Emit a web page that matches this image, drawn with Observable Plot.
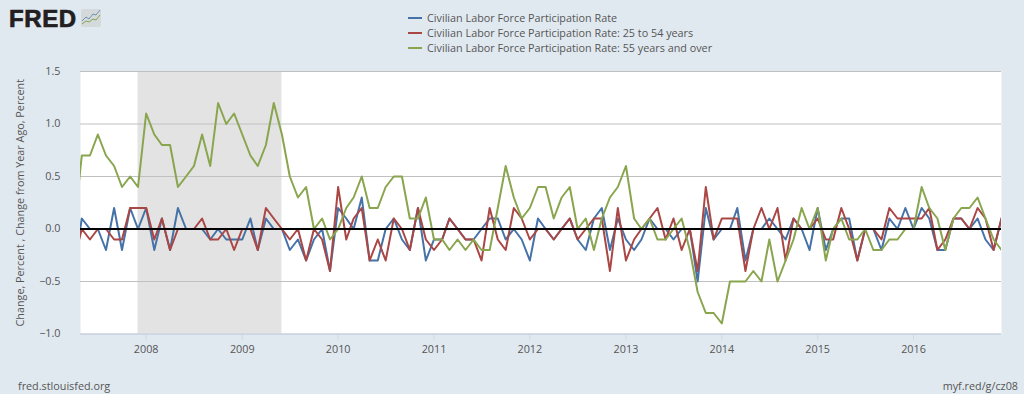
<!DOCTYPE html>
<html>
<head>
<meta charset="utf-8">
<script src="https://cdn.jsdelivr.net/npm/d3@7"></script>
<script src="https://cdn.jsdelivr.net/npm/@observablehq/plot@0.6"></script>
<style>
html,body{margin:0;padding:0;background:#e1e9f0;width:1024px;height:394px;overflow:hidden;font-family:"Open Sans",sans-serif;color:#555}
#chart{position:absolute;left:0;top:0}
.t{position:absolute;white-space:nowrap;font-size:10.8px;line-height:14px}
.sw{position:absolute;left:408px;width:14px;height:2px}
#logo{position:absolute;left:9px;top:6px;font:bold 24px/26px "Liberation Sans",sans-serif;color:#231f20;-webkit-text-stroke:.7px #231f20;letter-spacing:.6px}
#icon{position:absolute;left:81px;top:9px}
</style>
</head>
<body>
<div id="chart"></div>
<div id="logo">FRED</div>
<svg id="icon" width="20" height="18"><rect width="20" height="18" rx="2" fill="#d4d9dc"/><polyline points="1,12 5,8 8,10 12,5 15,6 19,1" fill="none" stroke="#6f93b0" stroke-width="1"/><polyline points="1,15 5,12 8,13 12,10 15,11 19,6" fill="none" stroke="#84a552" stroke-width="1"/></svg>
<div id="legend"></div>
<div class="t" style="left:18px;top:379px">fred.stlouisfed.org</div>
<div class="t" style="right:6px;top:379px">myf.red/g/cz08</div>
<script>
const startMonth = "2007-04-01";
const endMonth = "2016-12-01";
const seriesNames = [
  "Civilian Labor Force Participation Rate",
  "Civilian Labor Force Participation Rate: 25 to 54 years",
  "Civilian Labor Force Participation Rate: 55 years and over"
];
const seriesColors = ["#4572a7", "#aa4643", "#89a54e"];
const allAges = [
  -.4,.1,0,0,-.2,.2,-.2,.2,0,
  .2,-.2,.1,-.2,.2,0,0,0,-.1,0,-.1,-.1,
  -.1,.1,-.2,.1,0,0,-.2,-.1,-.3,-.1,0,-.4,
  .2,.1,0,.3,-.3,-.3,0,.1,-.1,-.2,.2,-.3,
  -.1,-.1,.1,0,-.1,-.1,0,.1,.1,-.1,0,-.1,
  -.3,.1,0,-.1,0,.1,-.1,-.2,.1,.2,-.2,.1,
  -.1,-.2,-.1,.1,0,0,-.1,0,0,-.5,.2,-.1,
  0,0,.2,-.3,0,0,.1,0,-.1,.1,0,-.2,
  .2,-.2,0,.1,.1,-.3,0,0,-.2,.1,0,.2,
  0,.2,.1,-.2,-.2,.1,.1,0,.1,-.1,-.2,.1
];
const age25to54 = [
  -.3,0,-.1,0,0,-.1,-.1,.2,.2,
  .2,-.1,.1,-.2,0,0,0,.1,-.1,-.1,0,-.2,
  0,0,-.2,.2,.1,0,-.1,0,-.3,0,-.1,-.4,
  .4,-.1,.1,.2,-.3,-.1,-.3,.1,0,-.2,.2,-.1,
  -.2,-.1,.1,0,-.1,-.1,-.3,.2,-.1,-.2,.2,.1,
  -.1,0,0,-.1,0,.1,-.1,0,.1,.1,-.4,.2,
  -.3,-.1,0,.1,.2,-.1,.1,-.2,0,-.4,.4,-.1,
  .1,.1,.1,-.4,0,.2,0,.2,-.3,.1,0,0,
  .1,-.1,-.1,.2,0,-.3,0,0,-.1,.2,.1,.1,
  .1,.1,.2,-.2,-.1,.1,.1,0,.2,.1,-.2,.1
];
const age55plus = [
  0,.7,.7,.9,.7,.6,.4,.5,.4,
  1.1,.9,.8,.8,.4,.5,.6,.9,.6,1.2,1,1.1,
  .9,.7,.6,.8,1.2,.9,.5,.3,.4,0,.1,-.1,
  0,.2,.3,.5,.2,.2,.4,.5,.5,.1,.1,.3,
  -.1,-.1,-.2,-.1,-.2,-.1,-.2,-.2,.2,.6,.3,.1,
  .2,.4,.4,.1,.3,.4,0,.1,-.2,.1,.3,.4,
  .6,.1,0,.1,-.1,-.1,0,.1,-.2,-.6,-.8,-.8,
  -.9,-.5,-.5,-.5,-.4,-.5,-.1,-.5,-.3,-.1,.2,0,
  .2,-.3,0,.1,-.1,-.1,0,-.2,-.2,-.1,-.1,0,
  0,.4,.2,.1,-.2,.1,.2,.2,.3,.1,-.1,-.2
];
const yTicks = [-1, -0.5, 0, 0.5, 1, 1.5];
const yearTicks = [2008,2009,2010,2011,2012,2013,2014,2015,2016];
const recessionStart = "2007-12-01";
const recessionEnd = "2009-06-01";

const months = d3.utcMonth.range(new Date(startMonth), d3.utcMonth.offset(new Date(endMonth), 1));
const toRows = values => values.map((v, i) => ({date: months[i], value: v}));

const plot = Plot.plot({
  width: 1024,
  height: 394,
  marginLeft: 80,
  marginRight: 23,
  marginTop: 71,
  marginBottom: 60.5,
  style: {background: "#e1e9f0", fontFamily: "Open Sans", fontSize: "10.8px", color: "#555"},
  x: {type: "utc", domain: [new Date("2007-04-26"), new Date(endMonth)]},
  y: {domain: [-1, 1.5]},
  marks: [
    Plot.frame({fill: "#fff", stroke: null}),
    Plot.rect([{start: new Date(recessionStart), end: new Date(recessionEnd)}], {x1: "start", x2: "end", fill: "#e3e3e3"}),
    Plot.ruleY(yTicks, {stroke: "#c0c0c0", strokeWidth: 1}),
    Plot.ruleY([-1], {stroke: "#ccd6eb", strokeWidth: 1}),
    Plot.axisX({
      ticks: yearTicks.map(y => new Date(Date.UTC(y, 0, 1))),
      tickFormat: d3.utcFormat("%Y"), tickSize: 6, tickPadding: 5, label: null,
      stroke: "#ccd6eb", fill: "#555"
    }),
    Plot.axisY({
      ticks: yTicks, tickFormat: d3.format(".1f"), tickSize: 0, tickPadding: 20,
      label: "Change, Percent , Change from Year Ago, Percent",
      labelAnchor: "center", labelArrow: "none", labelOffset: 64, fill: "#555"
    }),
    Plot.line(toRows(allAges), {x: "date", y: "value", stroke: seriesColors[0], strokeWidth: 2, clip: true}),
    Plot.line(toRows(age25to54), {x: "date", y: "value", stroke: seriesColors[1], strokeWidth: 2, clip: true}),
    Plot.line(toRows(age55plus), {x: "date", y: "value", stroke: seriesColors[2], strokeWidth: 2, clip: true}),
    Plot.ruleY([0], {stroke: "#000", strokeWidth: 2})
  ]
});
document.getElementById("chart").appendChild(plot);

const legend = document.getElementById("legend");
seriesNames.forEach((name, i) => {
  const top = 18 + i * 15;
  const sw = document.createElement("div");
  sw.className = "sw";
  sw.style.top = (top - 1) + "px";
  sw.style.background = seriesColors[i];
  legend.appendChild(sw);
  const t = document.createElement("div");
  t.className = "t";
  t.style.left = "427px";
  t.style.top = (top - 7) + "px";
  t.textContent = name;
  legend.appendChild(t);
});
</script>
</body>
</html>
